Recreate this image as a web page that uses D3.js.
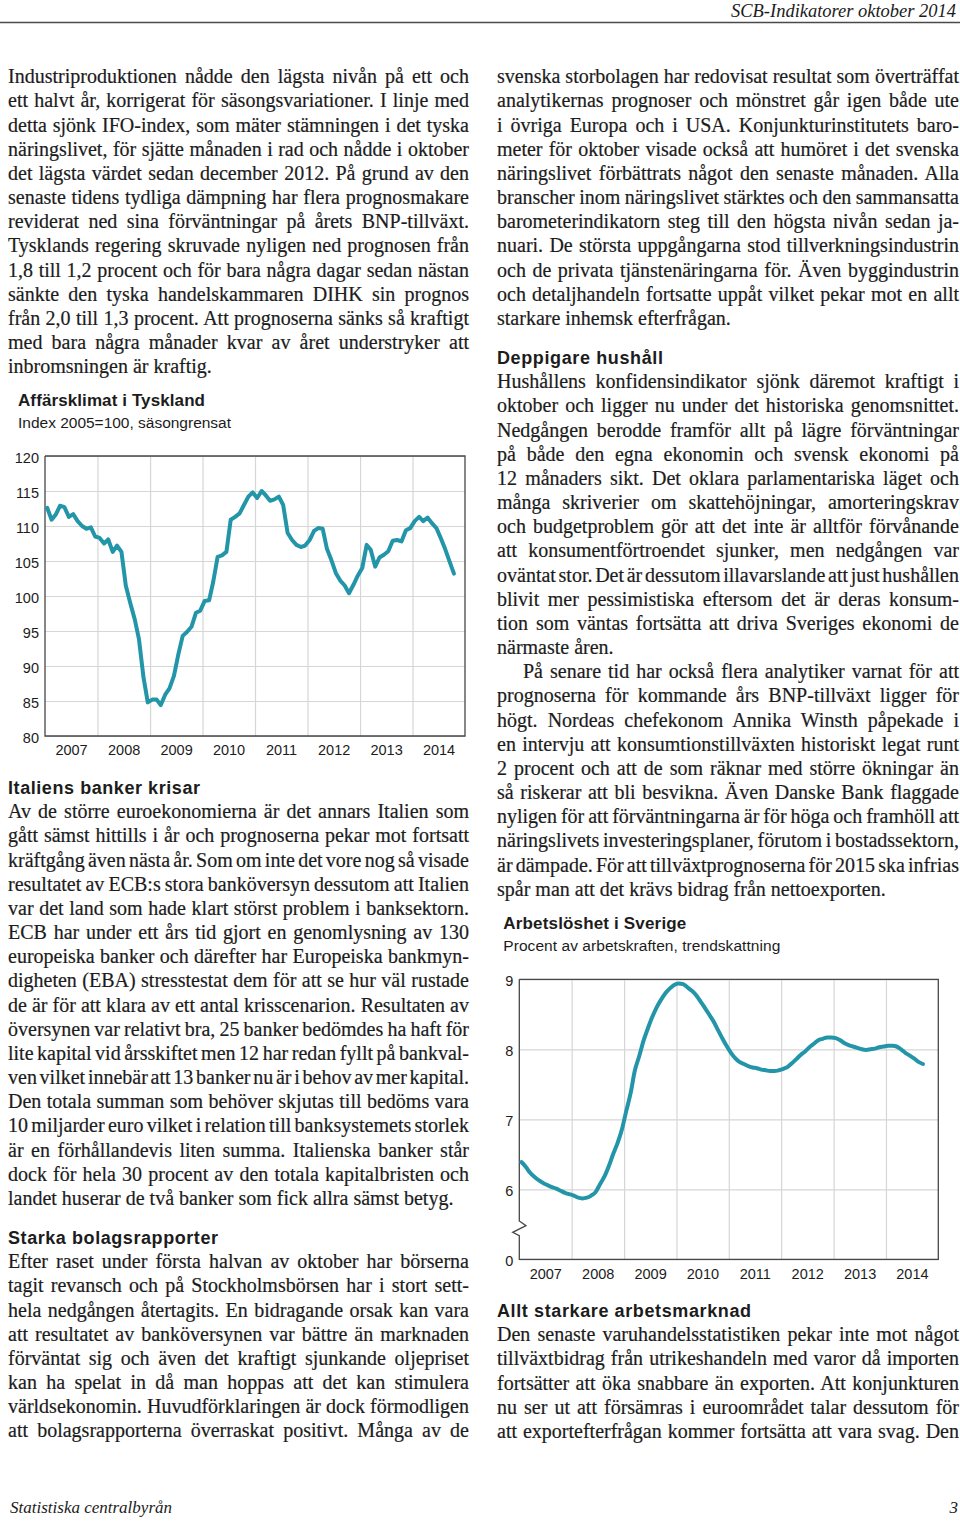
<!DOCTYPE html>
<html><head><meta charset="utf-8">
<script src="https://cdn.jsdelivr.net/npm/d3@7"></script>
<style>
html,body{margin:0;padding:0;background:#fff;}
svg{display:block;}
.body{font-family:"Liberation Serif","Times New Roman",serif;font-size:20px;fill:#1c1c1c;stroke:#1c1c1c;stroke-width:0.2px;}
.sans{font-family:"Liberation Sans",Arial,sans-serif;fill:#1c1c1c;}
.head{font-family:"Liberation Sans",Arial,sans-serif;font-weight:bold;font-size:18px;fill:#1c1c1c;}
</style></head><body>
<svg id="page" width="960" height="1523"></svg>
<script>
// ---------- DATA ----------
const years = ["2007","2008","2009","2010","2011","2012","2013","2014"];
const ifoTicks = [80,85,90,95,100,105,110,115,120];
// IFO business climate, monthly from Jan 2007
const ifoValues = [
 112.6,110.9,111.6,112.9,112.7,111.3,111.7,110.7,110.0,109.6,109.8,108.5,
 108.3,107.5,108.1,106.3,107.2,106.3,101.5,99.0,96.7,93.8,88.4,84.8,
 85.2,85.2,84.4,85.9,86.8,88.6,91.6,94.3,94.9,95.6,97.6,97.9,
 99.3,99.4,102.0,105.6,105.8,106.3,110.9,111.3,111.8,113.0,114.2,114.8,
 114.0,115.0,114.4,113.6,113.8,114.2,113.0,109.0,108.0,107.3,107.0,107.2,
 108.0,109.3,109.7,109.6,106.7,105.1,103.3,102.2,101.5,100.4,101.6,102.9,
 104.0,107.3,106.6,104.2,105.5,105.9,106.4,107.9,108.0,107.8,109.4,109.7,
 110.7,111.3,110.7,111.2,110.4,109.7,108.3,106.7,104.9,103.2
];
const unempTicks = [5,6,7,8,9];
const unempTickLabels = ["0","6","7","8","9"];
// Unemployment Sweden, trend, monthly from Jan 2007
const unempValues = [
 6.39,6.32,6.24,6.18,6.13,6.09,6.06,6.03,6.01,5.98,5.95,5.93,
 5.91,5.88,5.87,5.88,5.91,5.96,6.07,6.18,6.33,6.50,6.66,6.85,
 7.12,7.38,7.69,7.90,8.12,8.30,8.46,8.60,8.71,8.80,8.87,8.92,
 8.94,8.93,8.89,8.84,8.78,8.69,8.60,8.50,8.40,8.28,8.16,8.05,
 7.95,7.87,7.82,7.79,7.76,7.74,7.73,7.71,7.70,7.69,7.69,7.70,
 7.72,7.75,7.80,7.86,7.92,7.97,8.03,8.08,8.13,8.15,8.17,8.17,
 8.16,8.13,8.09,8.06,8.04,8.02,8.00,7.99,8.00,8.01,8.03,8.04,
 8.05,8.05,8.04,8.00,7.95,7.91,7.87,7.82,7.79
];

// ---------- TEXT ----------
const headerText = "SCB-Indikatorer oktober 2014";
const footerLeft = "Statistiska centralbyrån";
const footerRight = "3";
const chart1Title = "Affärsklimat i Tyskland";
const chart1Sub = "Index 2005=100, säsongrensat";
const chart2Title = "Arbetslöshet i Sverige";
const chart2Sub = "Procent av arbetskraften, trendskattning";
const headItaly = "Italiens banker krisar";
const headStarka = "Starka bolagsrapporter";
const headDeppig = "Deppigare hushåll";
const headAllt = "Allt starkare arbetsmarknad";

const leftPara1 = [
"Industriproduktionen nådde den lägsta nivån på ett och",
"ett halvt år, korrigerat för säsongsvariationer. I linje med",
"detta sjönk IFO-index, som mäter stämningen i det tyska",
"näringslivet, för sjätte månaden i rad och nådde i oktober",
"det lägsta värdet sedan december 2012. På grund av den",
"senaste tidens tydliga dämpning har flera prognosmakare",
"reviderat ned sina förväntningar på årets BNP-tillväxt.",
"Tysklands regering skruvade nyligen ned prognosen från",
"1,8 till 1,2 procent och för bara några dagar sedan nästan",
"sänkte den tyska handelskammaren DIHK sin prognos",
"från 2,0 till 1,3 procent. Att prognoserna sänks så kraftigt",
"med bara några månader kvar av året understryker att",
"inbromsningen är kraftig."];
const leftPara2 = [
"Av de större euroekonomierna är det annars Italien som",
"gått sämst hittills i år och prognoserna pekar mot fortsatt",
"kräftgång även nästa år. Som om inte det vore nog så visade",
"resultatet av ECB:s stora banköversyn dessutom att Italien",
"var det land som hade klart störst problem i banksektorn.",
"ECB har under ett års tid gjort en genomlysning av 130",
"europeiska banker och därefter har Europeiska bankmyn-",
"digheten (EBA) stresstestat dem för att se hur väl rustade",
"de är för att klara av ett antal krisscenarion. Resultaten av",
"översynen var relativt bra, 25 banker bedömdes ha haft för",
"lite kapital vid årsskiftet men 12 har redan fyllt på bankval-",
"ven vilket innebär att 13 banker nu är i behov av mer kapital.",
"Den totala summan som behöver skjutas till bedöms vara",
"10 miljarder euro vilket i relation till banksystemets storlek",
"är en förhållandevis liten summa. Italienska banker står",
"dock för hela 30 procent av den totala kapitalbristen och",
"landet huserar de två banker som fick allra sämst betyg."];
const leftPara3 = [
"Efter raset under första halvan av oktober har börserna",
"tagit revansch och på Stockholmsbörsen har i stort sett-",
"hela nedgången återtagits. En bidragande orsak kan vara",
"att resultatet av banköversynen var bättre än marknaden",
"förväntat sig och även det kraftigt sjunkande oljepriset",
"kan ha spelat in då man hoppas att det kan stimulera",
"världsekonomin. Huvudförklaringen är dock förmodligen",
"att bolagsrapporterna överraskat positivt. Många av de"];
const rightPara1 = [
"svenska storbolagen har redovisat resultat som överträffat",
"analytikernas prognoser och mönstret går igen både ute",
"i övriga Europa och i USA. Konjunkturinstitutets baro-",
"meter för oktober visade också att humöret i det svenska",
"näringslivet förbättrats något den senaste månaden. Alla",
"branscher inom näringslivet stärktes och den sammansatta",
"barometerindikatorn steg till den högsta nivån sedan ja-",
"nuari. De största uppgångarna stod tillverkningsindustrin",
"och de privata tjänstenäringarna för. Även byggindustrin",
"och detaljhandeln fortsatte uppåt vilket pekar mot en allt",
"starkare inhemsk efterfrågan."];
const rightPara2 = [
"Hushållens konfidensindikator sjönk däremot kraftigt i",
"oktober och ligger nu under det historiska genomsnittet.",
"Nedgången berodde framför allt på lägre förväntningar",
"på både den egna ekonomin och svensk ekonomi på",
"12 månaders sikt. Det oklara parlamentariska läget och",
"många skriverier om skattehöjningar, amorteringskrav",
"och budgetproblem gör att det inte är alltför förvånande",
"att konsumentförtroendet sjunker, men nedgången var",
"oväntat stor. Det är dessutom illavarslande att just hushållen",
"blivit mer pessimistiska eftersom det är deras konsum-",
"tion som väntas fortsätta att driva Sveriges ekonomi de",
"närmaste åren."];
const rightPara3 = [
"På senare tid har också flera analytiker varnat för att",
"prognoserna för kommande års BNP-tillväxt ligger för",
"högt. Nordeas chefekonom Annika Winsth påpekade i",
"en intervju att konsumtionstillväxten historiskt legat runt",
"2 procent och att de som räknar med större ökningar än",
"så riskerar att bli besvikna. Även Danske Bank flaggade",
"nyligen för att förväntningarna är för höga och framhöll att",
"näringslivets investeringsplaner, förutom i bostadssektorn,",
"är dämpade. För att tillväxtprognoserna för 2015 ska infrias",
"spår man att det krävs bidrag från nettoexporten."];
const rightPara4 = [
"Den senaste varuhandelsstatistiken pekar inte mot något",
"tillväxtbidrag från utrikeshandeln med varor då importen",
"fortsätter att öka snabbare än exporten. Att konjunkturen",
"nu ser ut att försämras i euroområdet talar dessutom för",
"att exportefterfrågan kommer fortsätta att vara svag. Den"];

// ---------- LAYOUT ----------
const svg = d3.select("#page");
const LH = 24.17;
const TEAL = "#2395a8";
const INK = "#1c1c1c";

function textBlock(lines, x, y0, width, justifyLast, indent){
  indent = indent || 0;
  lines.forEach((s,i)=>{
    const xi = x + (i===0?indent:0);
    const w = width - (i===0?indent:0);
    const t = svg.append("text").attr("class","body").attr("x",xi).attr("y",y0+i*LH).text(s);
    const isLast = i===lines.length-1;
    const nat = t.node().getComputedTextLength();
    const spaces = (s.match(/ /g)||[]).length;
    if((!isLast || justifyLast) && spaces>0){
      t.style("word-spacing", ((w-nat)/spaces).toFixed(3)+"px");
    } else if(nat > w){
      t.attr("textLength", w).attr("lengthAdjust","spacingAndGlyphs");
    }
  });
}
function fitText(str, x, y, width, cls, size, extra){
  const t = svg.append("text").attr("class",cls).attr("x",x).attr("y",y).text(str);
  if(size) t.style("font-size",size+"px");
  if(extra) extra(t);
  t.attr("textLength",width).attr("lengthAdjust","spacing");
  return t;
}

// header
svg.append("line").attr("x1",0).attr("x2",960).attr("y1",22.5).attr("y2",22.5)
  .attr("stroke","#4a4a4a").attr("stroke-width",1.5);
fitText(headerText, 731, 17.3, 225, "body", 18.5, t=>t.style("font-style","italic").style("stroke-width","0"));
// footer
fitText(footerLeft, 10, 1513, 162, "body", 17, t=>t.style("font-style","italic").style("stroke-width","0"));
svg.append("text").attr("class","body").attr("x",958).attr("y",1513).attr("text-anchor","end")
  .style("font-style","italic").style("font-size","17px").style("stroke-width","0").text(footerRight);

// columns
const BODY_TOP = 83.3, AFTER_HEAD = 24.5;
const hItaly = 793.7, hStarka = 1243.7, hDeppig = 363.7, hAllt = 1316.7;
textBlock(leftPara1, 8, BODY_TOP, 461, false);
fitText(headItaly, 8, hItaly, 192, "head");
textBlock(leftPara2, 8, hItaly+AFTER_HEAD, 461, false);
fitText(headStarka, 8, hStarka, 210, "head");
textBlock(leftPara3, 8, hStarka+AFTER_HEAD, 461, true);

textBlock(rightPara1, 497, BODY_TOP, 462, false);
fitText(headDeppig, 497, hDeppig, 166, "head");
textBlock(rightPara2, 497, hDeppig+AFTER_HEAD, 462, false);
textBlock(rightPara3, 497, hDeppig+AFTER_HEAD+12*LH, 462, false, 26);
fitText(headAllt, 497, hAllt, 254, "head");
textBlock(rightPara4, 497, hAllt+AFTER_HEAD, 462, true);

// ---------- CHART helpers ----------
function styleAxis(g, size){
  g.select(".domain").remove();
  g.selectAll(".tick line").attr("stroke","#d6d6d6").attr("stroke-width",1.2);
  g.selectAll(".tick text").attr("class","sans").style("font-size",size+"px").attr("fill",INK);
}
function monthDate(i){ return new Date(2007, i, 16); }
const gridYears = d3.range(2008,2015).map(y=>new Date(y,0,1));
const midYears = years.map(y=>new Date(+y,6,1));

function drawChart(box, yScale, ticks, tickFmt, values, curve, title, sub, titleX, titleW, subW, brk){
  const x = d3.scaleTime().domain([new Date(2007,0,1), new Date(2015,0,1)]).range([box.left, box.right]);
  const w = box.right-box.left, h = box.bottom-box.top;
  const g = svg.append("g");
  const ya = g.append("g").attr("transform",`translate(${box.left},0)`)
    .call(d3.axisLeft(yScale).tickValues(ticks).tickSize(-w).tickPadding(6).tickFormat(tickFmt));
  styleAxis(ya, 14.5);
  ya.selectAll(".tick text").attr("dy","0.45em");
  const xg = g.append("g").attr("transform",`translate(0,${box.bottom})`)
    .call(d3.axisBottom(x).tickValues(gridYears).tickSize(-h).tickFormat(""));
  styleAxis(xg, 14.5);
  const xa = g.append("g").attr("transform",`translate(0,${box.bottom})`)
    .call(d3.axisBottom(x).tickValues(midYears).tickSize(0).tickPadding(9.2).tickFormat(d3.timeFormat("%Y")));
  styleAxis(xa, 14.5);
  const fr = d3.path();
  fr.moveTo(box.left, box.top); fr.lineTo(box.right, box.top);
  fr.lineTo(box.right, box.bottom); fr.lineTo(box.left, box.bottom);
  if(brk){
    const yb = yScale(brk);
    fr.lineTo(box.left, yb+11.4);
    fr.lineTo(box.left-6.6, yb+8);
    fr.lineTo(box.left+6.7, yb+1.4);
    fr.lineTo(box.left, yb-3.3);
  }
  fr.lineTo(box.left, box.top);
  g.append("path").attr("d",fr.toString()).attr("fill","none").attr("stroke","#474747").attr("stroke-width",1.3)
    .attr("stroke-linejoin","miter");
  const line = d3.line().x((d,i)=>x(monthDate(i))).y(d=>yScale(d)).curve(curve);
  g.append("path").datum(values).attr("d",line).attr("fill","none").attr("stroke",TEAL)
    .attr("stroke-width",4).attr("stroke-linejoin","round").attr("stroke-linecap","round");
  fitText(title, titleX, box.top-50.3, titleW, "sans", 17, t=>t.style("font-weight","bold"));
  fitText(sub, titleX, box.top-28.3, subW, "sans", 15.5);
}

const box1 = {left:45, right:465, top:456, bottom:736};
const y1 = d3.scaleLinear().domain([80,120]).range([box1.bottom, box1.top]);
drawChart(box1, y1, ifoTicks, d=>d, ifoValues, d3.curveLinear, chart1Title, chart1Sub, 18, 187, 213, null);

const box2 = {left:519.3, right:938.3, top:979.3, bottom:1259.3};
const y2 = d3.scaleLinear().domain([5,9]).range([box2.bottom, box2.top]);
drawChart(box2, y2, unempTicks, d=>unempTickLabels[unempTicks.indexOf(d)], unempValues, d3.curveMonotoneX,
  chart2Title, chart2Sub, 503.3, 183, 277, 5.5);
</script>
</body></html>
